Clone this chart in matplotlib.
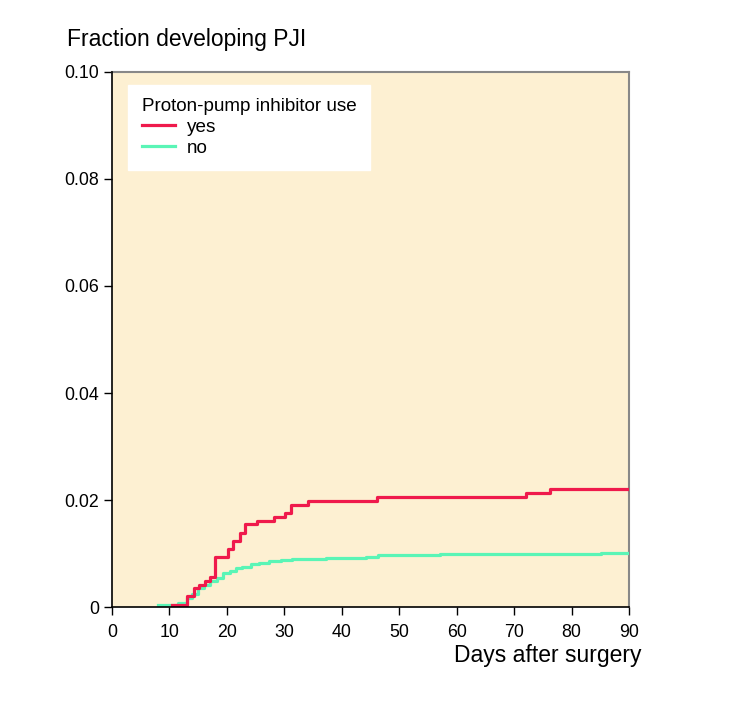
import matplotlib; matplotlib.use('Agg')
import matplotlib.pyplot as plt

# Cumulative fraction developing PJI (step curves)
yes_days = [10.5, 13.1, 14.2, 15.1, 16.2, 17.0, 18.0, 20.2, 21.1, 22.2, 23.2,
            25.2, 28.2, 30.1, 31.1, 34.2, 46.1, 72.1, 76.3, 90]
yes_vals = [0.0004, 0.0021, 0.0035, 0.0041, 0.0049, 0.0057, 0.0093, 0.0108,
            0.0123, 0.0139, 0.0155, 0.0161, 0.0168, 0.0175, 0.0191, 0.0198,
            0.0206, 0.0214, 0.0221, 0.0221]

no_days = [8.0, 11.5, 13.0, 14.0, 14.9, 16.0, 17.0, 18.2, 19.3, 20.5, 21.6,
           22.7, 24.2, 25.6, 27.4, 29.4, 31.4, 37.2, 44.3, 46.3, 57.1, 85.2, 90]
no_vals = [0.0004, 0.0007, 0.0016, 0.0025, 0.0035, 0.0041, 0.0048, 0.0055,
           0.0063, 0.0068, 0.0072, 0.0075, 0.0080, 0.0083, 0.0086, 0.0088,
           0.0089, 0.0091, 0.0094, 0.0097, 0.0099, 0.0101, 0.0101]

x_ticks = [0, 10, 20, 30, 40, 50, 60, 70, 80, 90]
y_ticks = [0, 0.02, 0.04, 0.06, 0.08, 0.10]
y_labels = ['0', '0.02', '0.04', '0.06', '0.08', '0.10']

RED = '#ef1a4c'
GREEN = '#5af5b6'
BG = '#fdf0d2'

plt.rcParams['font.family'] = ['Liberation Sans', 'DejaVu Sans']

fig = plt.figure(figsize=(7.42, 7.17), dpi=100)
ax = fig.add_axes([0.1509, 0.1534, 0.6968, 0.7462])
ax.set_facecolor(BG)

ax.step(no_days, no_vals, where='post', color=GREEN, lw=2.3, label='no', zorder=3)
ax.step(yes_days, yes_vals, where='post', color=RED, lw=2.3, label='yes', zorder=4)

ax.set_xlim(0, 90)
ax.set_ylim(0, 0.10)
ax.set_xticks(x_ticks)
ax.set_yticks(y_ticks)
ax.set_yticklabels(y_labels)
ax.tick_params(direction='out', length=6, width=1, labelsize=12.8, colors='black')
ax.tick_params(axis='x', pad=6)

for side in ['left', 'bottom']:
    ax.spines[side].set_color('black')
    ax.spines[side].set_linewidth(1.2)
    ax.spines[side].set_zorder(5)
for side in ['top', 'right']:
    ax.spines[side].set_color('#888888')
    ax.spines[side].set_linewidth(1.5)

handles, labels = ax.get_legend_handles_labels()
leg = ax.legend(handles[::-1], labels[::-1], title='Proton-pump inhibitor use',
                loc='upper left', bbox_to_anchor=(0.031, 0.976), fontsize=13.6,
                title_fontsize=13.6, frameon=True, fancybox=False,
                borderpad=0.72, labelspacing=0.18, handlelength=1.75,
                handletextpad=0.65, borderaxespad=0)
leg._legend_box.align = 'left'
leg.get_frame().set_facecolor('white')
leg.get_frame().set_edgecolor('white')
leg.get_frame().set_alpha(1)

fig.text(0.090, 0.945, 'Fraction developing PJI', fontsize=16.5, ha='left', va='center')
fig.text(0.864, 0.086, 'Days after surgery', fontsize=16.5, ha='right', va='center')

plt.savefig('out.png', dpi=100)
plt.close()
